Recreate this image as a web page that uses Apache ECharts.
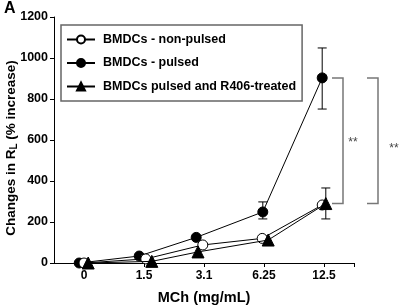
<!DOCTYPE html>
<html><head><meta charset="utf-8">
<script src="https://cdn.jsdelivr.net/npm/echarts@6/dist/echarts.min.js"></script>
<style>html,body{margin:0;padding:0;background:#fff}#c{width:402px;height:307px}</style>
</head><body><div id="c"></div>
<script>
var categories = ['0', '1.5', '3.1', '6.25', '12.5'];
var yTicks = [0, 200, 400, 600, 800, 1000, 1200];
var nonPulsed = [0, 20, 88, 120, 283];
var nonPulsedShift = [0, 0.03, -0.02, -0.03, -0.03];
var pulsed = [0, 34, 125, 249, 903];
var pulsedShift = [-0.08, -0.08, -0.13, -0.02, -0.03];
var treated = [0, 8, 54, 112, 290];
var treatedShift = [0.07, 0.13, -0.1, 0.07, 0.03];
// error bars: [category index, low, high]
var pulsedErr = [[3, 215, 298], [4, 751, 1049]];
var treatedErr = [[4, 215, 366]];
var sigLabels = ['**', '**'];

var FONT = 'Liberation Sans, Arial, sans-serif';
function pts(vals, shift) { return vals.map(function (v, i) { return [i + shift[i], v]; }); }
function errData(err, shift) { return err.map(function (e) { return [e[0] + shift[e[0]], e[1], e[2]]; }); }

function errRender(params, api) {
  var lo = api.coord([api.value(0), api.value(1)]);
  var hi = api.coord([api.value(0), api.value(2)]);
  var w = 4.5;
  var st = { stroke: '#000', lineWidth: 1 };
  return { type: 'group', children: [
    { type: 'line', shape: { x1: lo[0], y1: lo[1], x2: hi[0], y2: hi[1] }, style: st },
    { type: 'line', shape: { x1: lo[0] - w, y1: lo[1], x2: lo[0] + w, y2: lo[1] }, style: st },
    { type: 'line', shape: { x1: hi[0] - w, y1: hi[1], x2: hi[0] + w, y2: hi[1] }, style: st }
  ]};
}

var chart = echarts.init(document.getElementById('c'), null, { renderer: 'canvas' });
var lineStyle = { color: '#000', width: 1 };
chart.setOption({
  animation: false,
  title: { text: 'A', left: 4, top: 1, padding: 0, textStyle: { fontFamily: FONT, fontSize: 16, fontWeight: 'bold', color: '#000' } },
  grid: { left: 54, right: 48, top: 17, bottom: 44, containLabel: false, outerBoundsMode: 'none' },
  legend: {
    orient: 'vertical', left: 61, top: 25,
    data: ['BMDCs - non-pulsed', 'BMDCs - pulsed', 'BMDCs pulsed and R406-treated'],
    itemWidth: 28, itemHeight: 10, itemGap: 10.5,
    padding: [8, 6, 8, 5],
    borderColor: '#666', borderWidth: 1.5, backgroundColor: '#fff',
    textStyle: { fontFamily: FONT, fontSize: 12.5, fontWeight: 'bold', color: '#000', padding: [0, 0, 0, 3] }
  },
  xAxis: {
    type: 'value', min: -0.5, max: 4.5,
    name: 'MCh (mg/mL)', nameLocation: 'middle', nameGap: 27, nameMoveOverlap: false,
    nameTextStyle: { fontFamily: FONT, fontSize: 14.5, fontWeight: 'bold', color: '#000' },
    axisLine: { show: true, onZero: false, lineStyle: { color: '#000', width: 1 } },
    axisTick: { show: true, length: 4, customValues: [0, 1, 2, 3, 4, 4.5], lineStyle: { color: '#000' } },
    axisLabel: { customValues: [0, 1, 2, 3, 4], margin: 7, formatter: function (v) { return categories[Math.round(v)]; },
      fontFamily: FONT, fontSize: 12, fontWeight: 'bold', color: '#000' },
    splitLine: { show: false }
  },
  yAxis: {
    type: 'value', min: yTicks[0], max: yTicks[yTicks.length - 1], interval: 200,
    name: 'Changes in R{sub|L} (% increase)', nameLocation: 'middle', nameGap: 35, nameMoveOverlap: false,
    nameTextStyle: { fontFamily: FONT, fontSize: 13.5, fontWeight: 'bold', color: '#000', padding: [0, 16, 0, 0],
      rich: { sub: { fontFamily: FONT, fontSize: 10, fontWeight: 'bold', color: '#000', verticalAlign: 'bottom', padding: [6, 0, 0, 0] } } },
    axisLine: { show: true, onZero: false, lineStyle: { color: '#000', width: 1 } },
    axisTick: { show: true, length: 4, lineStyle: { color: '#000' } },
    axisLabel: { margin: 6, formatter: function (v) { return String(v); }, fontFamily: FONT, fontSize: 12.5, fontWeight: 'bold', color: '#000' },
    splitLine: { show: false }
  },
  series: [
    { name: 'BMDCs - pulsed', type: 'line', data: pts(pulsed, pulsedShift), symbol: 'circle', symbolSize: 10,
      lineStyle: lineStyle, itemStyle: { color: '#000', borderColor: '#000', borderWidth: 1 }, z: 3 },
    { name: 'BMDCs - non-pulsed', type: 'line', data: pts(nonPulsed, nonPulsedShift), symbol: 'circle', symbolSize: 10,
      lineStyle: lineStyle, itemStyle: { color: '#fff', borderColor: '#000', borderWidth: 1 }, z: 4 },
    { name: 'BMDCs pulsed and R406-treated', type: 'line', data: pts(treated, treatedShift), symbol: 'triangle', symbolSize: [12, 12],
      lineStyle: lineStyle, itemStyle: { color: '#000', borderColor: '#000', borderWidth: 1 }, z: 5 },
    { type: 'custom', data: errData(pulsedErr, pulsedShift), renderItem: errRender, z: 2, silent: true },
    { type: 'custom', data: errData(treatedErr, treatedShift), renderItem: errRender, z: 2, silent: true },
    { type: 'custom', data: [[4, pulsed[4], treated[4]]], z: 1, silent: true, clip: false,
      renderItem: function (params, api) {
        var t = api.coord([api.value(0), api.value(1)]);
        var b = api.coord([api.value(0), api.value(2)]);
        var st = { stroke: '#777', lineWidth: 1.5, fill: null };
        var x0 = t[0];
        function br(a, c) {
          return { type: 'polyline', shape: { points: [[x0 + a, t[1]], [x0 + c, t[1]], [x0 + c, b[1]], [x0 + a, b[1]]] }, style: st };
        }
        var mid = (t[1] + b[1]) / 2;
        var ts = { fill: '#444', font: '12px ' + FONT, align: 'center', verticalAlign: 'middle' };
        return { type: 'group', children: [
          br(8, 19), br(43, 54),
          { type: 'text', style: Object.assign({ text: sigLabels[0], x: x0 + 29, y: mid + 2 }, ts) },
          { type: 'text', style: Object.assign({ text: sigLabels[1], x: x0 + 70, y: mid + 8 }, ts) }
        ]};
      } }
  ]
});
</script></body></html>
